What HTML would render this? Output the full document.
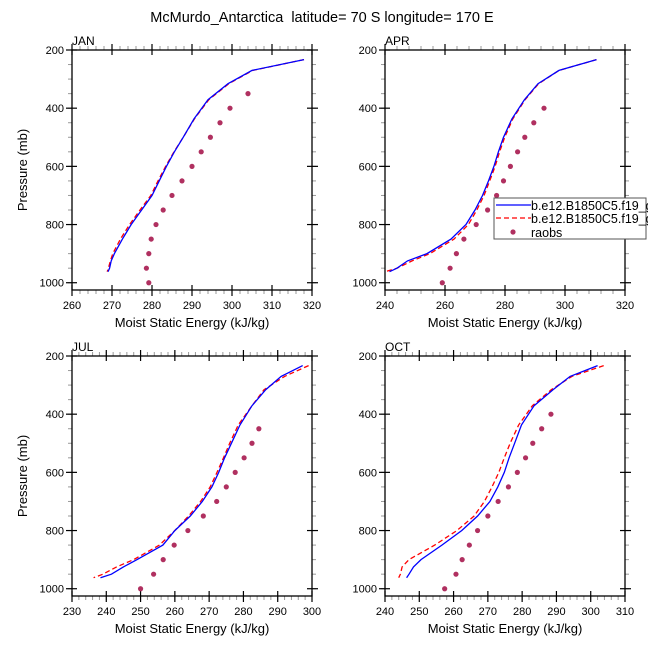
<!DOCTYPE html>
<html><head><meta charset="utf-8"><style>
body{margin:0;background:#fff}
svg text{font-family:"Liberation Sans",sans-serif;fill:#000}
</style></head><body>
<svg id="chart" width="648" height="648" viewBox="0 0 648 648" xmlns="http://www.w3.org/2000/svg">
<rect width="648" height="648" fill="#fff"/>
<text x="322" y="22" font-size="14.5" text-anchor="middle" style="white-space:pre">McMurdo_Antarctica  latitude= 70 S longitude= 170 E</text>
<g id="panels"></g>
</svg>
<script>
const months = ["JAN","APR","JUL","OCT"];
const xRanges = [[260,320],[240,320],[230,300],[240,310]];
const xTickStep = [10,20,10,10];
const pTicks = [200,400,600,800,1000];
const modelP = [233,270,316,371,437,500,550,600,650,700,750,800,850,900,925,950,962];
const blueJAN = [318,305,299,294,290.5,287.8,285.6,283.6,281.8,280,277.4,274.8,272.6,270.6,269.8,269.4,269];
const redJAN  = [318,305.2,299.2,294.2,290.6,287.8,285.5,283.4,281.5,279.7,277,274.4,272.1,270.2,269.6,269.1,268.8];
const blueAPR = [310.5,298,291,286.5,282.3,279.5,277.8,276.3,274.5,272.5,270,267,262,254,247.5,244,241.5];
const redAPR  = [310.5,298,291.2,286.7,282.6,279.9,278.2,276.7,274.9,273,270.6,267.8,263,255,249,244,240];
const blueJUL = [297.3,291,286.5,282.5,279,276.5,274.5,272.8,270.8,268,264.5,260,256.5,249,245,241.5,238.3];
const redJUL  = [299,292,286,282.5,278.5,276,274.2,272.3,270.3,267.5,264,260,255.5,248,243,239,236.3];
const blueOCT = [302,294,289,283.5,279.8,277.8,276.2,274.8,272.9,270.6,267,262.4,256.6,250.5,248.3,247,246.3];
const redOCT  = [303.8,294.5,288.5,283,279,276.5,274.8,273.2,271.2,269,266,261,254.5,247,245,244.5,244];
const obsJAN_P = [350,400,450,500,550,600,650,700,750,800,850,900,950,1000];
const obsJAN = [304,299.5,297,294.6,292.3,290,287.5,285,282.8,281,279.8,279.2,278.6,279.2];
const obsP = [400,450,500,550,600,650,700,750,800,850,900,950,1000];
const obsAPR = [293,289.6,286.6,284.2,281.8,279.5,277.2,274.2,270.4,266.3,263.8,261.7,259.1];
const obsJUL_P = [450,500,550,600,650,700,750,800,850,900,950,1000];
const obsJUL = [284.5,282.5,280.2,277.6,275,272.2,268.3,263.8,259.8,256.6,253.8,250];
const obsOCT = [288.4,285.7,283.1,281,278.6,276,273,270,267,264.6,262.5,260.7,257.4];

const blues=[blueJAN,blueAPR,blueJUL,blueOCT], reds=[redJAN,redAPR,redJUL,redOCT];
const obsX=[obsJAN,obsAPR,obsJUL,obsOCT], obsPs=[obsJAN_P,obsP,obsJUL_P,obsP];
const origins=[[72,50],[385,50],[72,356],[385,356]];
const W=240,H=240,P0=200,P1=1025;
const NS="http://www.w3.org/2000/svg";
const root=document.getElementById('panels');
function mk(tag,attrs,parent){const e=document.createElementNS(NS,tag);for(const k in attrs)e.setAttribute(k,attrs[k]);(parent||root).appendChild(e);return e;}
months.forEach((m,i)=>{
  const [ox,oy]=origins[i],[x0,x1]=xRanges[i];
  const sx=v=>ox+(v-x0)/(x1-x0)*W, sy=p=>oy+(p-P0)/(P1-P0)*H;
  const g=mk('g',{});
  
  
  const lab=mk('text',{x:ox,y:oy-5,'font-size':12},g);lab.textContent=m;
  
  
  for(let v=x0;v<=x1+1e-6;v+=xTickStep[i]/5){
    const x=sx(v);
    mk('line',{x1:x,x2:x,y1:oy+H,y2:oy+H+4,stroke:'#999','stroke-width':1},g);
    mk('line',{x1:x,x2:x,y1:oy,y2:oy-4,stroke:'#999','stroke-width':1},g);
  }
  for(let p=250;p<=1000;p+=50){
    const y=sy(p);
    mk('line',{x1:ox,x2:ox-4,y1:y,y2:y,stroke:'#999','stroke-width':1},g);
    mk('line',{x1:ox+W,x2:ox+W+4,y1:y,y2:y,stroke:'#999','stroke-width':1},g);
  }
  for(let v=x0;v<=x1+1e-6;v+=xTickStep[i]){
    const x=sx(v);
    mk('line',{x1:x,x2:x,y1:oy+H+6,y2:oy+H-5,stroke:'#000','stroke-width':1.2},g);
    mk('line',{x1:x,x2:x,y1:oy-6,y2:oy+5,stroke:'#000','stroke-width':1.2},g);
    const t=mk('text',{x:x,y:oy+H+19,'font-size':11,'text-anchor':'middle'},g);t.textContent=v;
    
    
  }
  pTicks.forEach(p=>{
    const y=sy(p);
    mk('line',{x1:ox-6,x2:ox+5,y1:y,y2:y,stroke:'#000','stroke-width':1.2},g);
    mk('line',{x1:ox+W-5,x2:ox+W+6,y1:y,y2:y,stroke:'#000','stroke-width':1.2},g);
    const t=mk('text',{x:ox-8,y:y+4,'font-size':11,'text-anchor':'end'},g);t.textContent=p;
    
    
  });
  const fr=mk('rect',{x:ox,y:oy,width:W,height:H,fill:'none',stroke:'#000','stroke-width':1.3},g);
  
  
  const pts=arr=>arr.map((v,k)=>sx(v).toFixed(1)+','+sy(modelP[k]).toFixed(1)).join(' ');
  const r=mk('polyline',{points:pts(reds[i]),fill:'none',stroke:'#f00','stroke-width':1.3,'stroke-dasharray':'5,3'},g);
  
  
  const b=mk('polyline',{points:pts(blues[i]),fill:'none',stroke:'#00f','stroke-width':1.3},g);
  
  
  obsX[i].forEach((v,k)=>{
    const c=mk('circle',{cx:sx(v),cy:sy(obsPs[i][k]),r:2.6,fill:'#b03060'},g);
    
    
  });
  if(i%2==0){
    const t=mk('text',{x:0,y:0,'font-size':13,'text-anchor':'middle',transform:`translate(27,${oy+H/2}) rotate(-90)`},g);t.textContent='Pressure (mb)';
    
    
  }
  const xt=mk('text',{x:ox+W/2,y:oy+H+37,'font-size':13,'text-anchor':'middle'},g);xt.textContent='Moist Static Energy (kJ/kg)';
  
  
});
const lg=mk('g',{});


mk('rect',{x:494,y:198,width:152,height:41,fill:'#fff',stroke:'#555','stroke-width':1},lg);
mk('line',{x1:496,x2:531,y1:205,y2:205,stroke:'#00f','stroke-width':1.3},lg);
mk('line',{x1:496,x2:531,y1:218,y2:218,stroke:'#f00','stroke-width':1.3,'stroke-dasharray':'5,3'},lg);
mk('circle',{cx:513,cy:232,r:2.6,fill:'#b03060'},lg);
[['b.e12.B1850C5.f19_g16.001',210],['b.e12.B1850C5.f19_g16.002',223],['raobs',237]].forEach(([s,y])=>{
  const t=mk('text',{x:531,y:y,'font-size':12.5},lg);t.textContent=s;
  
  
});
</script>
</body></html>
